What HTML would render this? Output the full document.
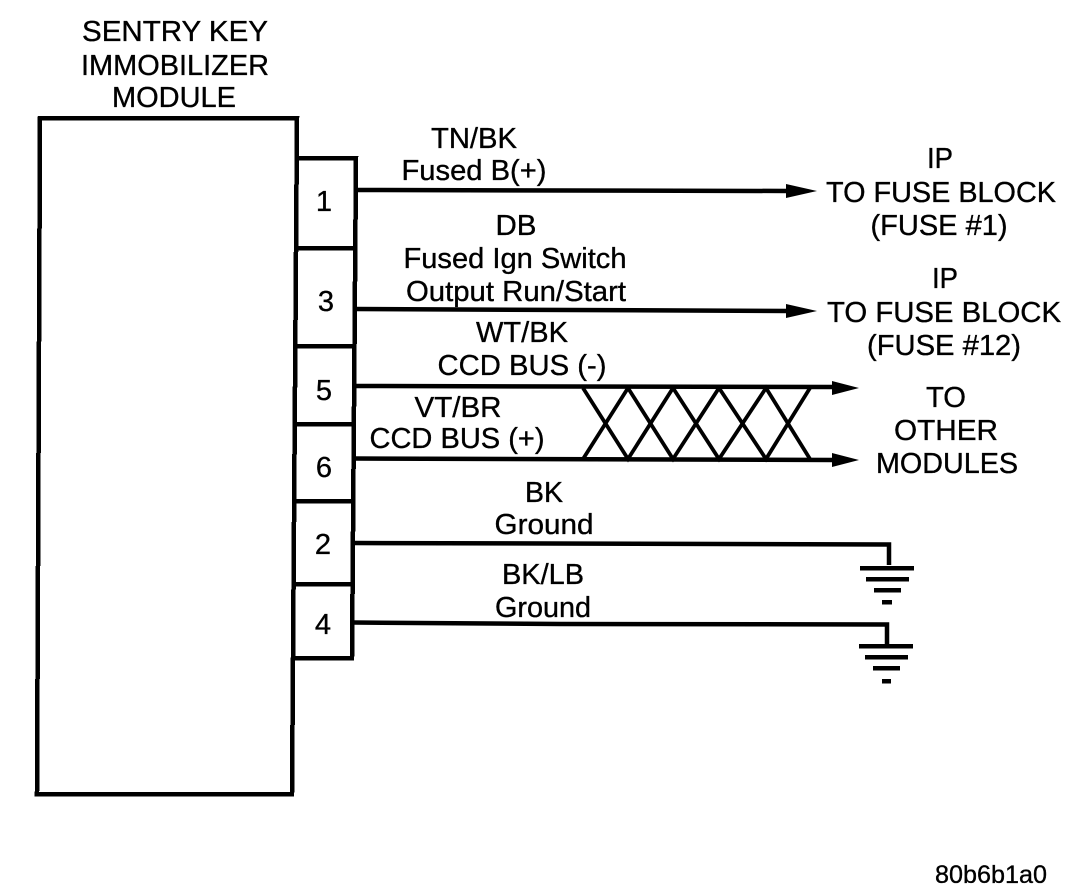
<!DOCTYPE html>
<html>
<head>
<meta charset="utf-8">
<style>
html,body{margin:0;padding:0;background:#fff;}
svg{display:block;}
text{font-family:"Liberation Sans",Arial,sans-serif;font-size:29px;fill:#000;stroke:#000;stroke-width:.35px;text-anchor:middle;}
</style>
</head>
<body>
<svg width="1088" height="892" viewBox="0 0 1088 892" xmlns="http://www.w3.org/2000/svg">
<g fill="none" stroke="#000" stroke-width="4.5" shape-rendering="crispEdges">
<polygon points="40,118 297,118 292,794 37,794"/>
<polyline points="297,158 356,158 352,658 294,658"/>
<line x1="297" y1="248" x2="356" y2="248"/>
<line x1="297" y1="346" x2="355" y2="346"/>
<line x1="296" y1="424" x2="355" y2="424"/>
<line x1="295" y1="501" x2="354" y2="501"/>
<line x1="295" y1="584" x2="353" y2="584"/>
</g>
<g fill="none" stroke="#000" stroke-width="4.5">
<line x1="356" y1="190" x2="790" y2="191"/>
<line x1="355" y1="309" x2="790" y2="311"/>
<line x1="355" y1="386" x2="835" y2="387"/>
<line x1="354" y1="458.5" x2="835" y2="460"/>
<polyline points="354,543 889,544.5 889,565"/>
<polyline points="353,622.5 560,624 887,624.5 887,645"/>
</g>
<g fill="none" stroke="#000" stroke-width="3.8">
<path d="M583,388 L628,459 L673,388 L719,459 L766,388 L810,459"/>
<path d="M583,459 L628,388 L673,459 L719,388 L766,459 L810,388"/>
</g>
<g fill="none" stroke="#000" stroke-width="4.5" shape-rendering="crispEdges">
<line x1="860" y1="568" x2="914" y2="568"/>
<line x1="866" y1="579" x2="909" y2="579"/>
<line x1="874" y1="590" x2="901" y2="590"/>
<line x1="882" y1="602" x2="892" y2="602"/>
<line x1="859" y1="646" x2="913" y2="646"/>
<line x1="865" y1="657" x2="908" y2="657"/>
<line x1="873" y1="668" x2="900" y2="668"/>
<line x1="882" y1="681" x2="891" y2="681"/>
</g>
<g fill="#000">
<polygon points="786,184 817,191 786,198"/>
<polygon points="786,304 817,311 786,318"/>
<polygon points="832,381 859,388 832,395"/>
<polygon points="832,453 859,460 832,467"/>
</g>
<text x="175" y="41" textLength="186" lengthAdjust="spacingAndGlyphs">SENTRY KEY</text>
<text x="175" y="75" textLength="188" lengthAdjust="spacingAndGlyphs">IMMOBILIZER</text>
<text x="174" y="107" textLength="124" lengthAdjust="spacingAndGlyphs">MODULE</text>
<text x="324" y="211">1</text>
<text x="326" y="311">3</text>
<text x="324" y="400">5</text>
<text x="324" y="477">6</text>
<text x="323" y="554">2</text>
<text x="323" y="634">4</text>
<text x="474" y="148" textLength="86" lengthAdjust="spacingAndGlyphs">TN/BK</text>
<text x="474" y="180" textLength="145" lengthAdjust="spacingAndGlyphs">Fused B(+)</text>
<text x="516" y="235" textLength="41" lengthAdjust="spacingAndGlyphs">DB</text>
<text x="515" y="268" textLength="223" lengthAdjust="spacingAndGlyphs">Fused Ign Switch</text>
<text x="516" y="301" textLength="220" lengthAdjust="spacingAndGlyphs">Output Run/Start</text>
<text x="522" y="342" textLength="92" lengthAdjust="spacingAndGlyphs">WT/BK</text>
<text x="522" y="375" textLength="169" lengthAdjust="spacingAndGlyphs">CCD BUS (-)</text>
<text x="458" y="417" textLength="87" lengthAdjust="spacingAndGlyphs">VT/BR</text>
<text x="457" y="448" textLength="175" lengthAdjust="spacingAndGlyphs">CCD BUS (+)</text>
<text x="544" y="502" textLength="38" lengthAdjust="spacingAndGlyphs">BK</text>
<text x="544" y="534" textLength="99" lengthAdjust="spacingAndGlyphs">Ground</text>
<text x="543" y="584" textLength="82" lengthAdjust="spacingAndGlyphs">BK/LB</text>
<text x="543" y="617" textLength="96" lengthAdjust="spacingAndGlyphs">Ground</text>
<text x="940" y="168" textLength="26" lengthAdjust="spacingAndGlyphs">IP</text>
<text x="941" y="202" textLength="230" lengthAdjust="spacingAndGlyphs">TO FUSE BLOCK</text>
<text x="939" y="235" textLength="137" lengthAdjust="spacingAndGlyphs">(FUSE #1)</text>
<text x="945" y="288" textLength="26" lengthAdjust="spacingAndGlyphs">IP</text>
<text x="944" y="322" textLength="234" lengthAdjust="spacingAndGlyphs">TO FUSE BLOCK</text>
<text x="944" y="355" textLength="154" lengthAdjust="spacingAndGlyphs">(FUSE #12)</text>
<text x="946" y="407" textLength="40" lengthAdjust="spacingAndGlyphs">TO</text>
<text x="946" y="440" textLength="104" lengthAdjust="spacingAndGlyphs">OTHER</text>
<text x="947" y="473" textLength="142" lengthAdjust="spacingAndGlyphs">MODULES</text>
<text x="991" y="883" textLength="112" lengthAdjust="spacingAndGlyphs" style="font-size:25px">80b6b1a0</text>
</svg>
</body>
</html>
